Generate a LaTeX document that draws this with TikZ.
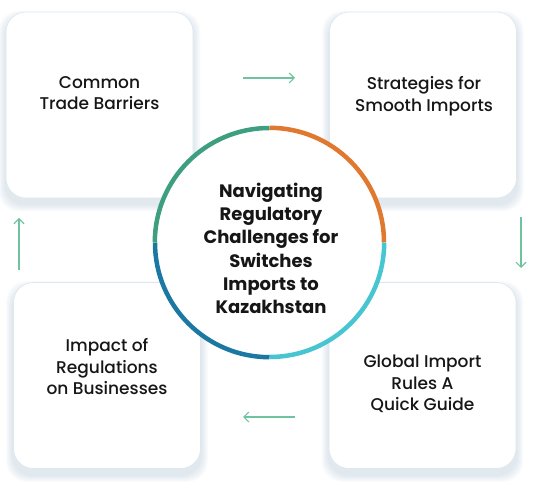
\documentclass[tikz,border=0pt]{standalone}
\usepackage{fontspec}
\setmainfont{Poppins}
\newfontfamily\cardfont{Poppins Medium}
\usetikzlibrary{arrows.meta,backgrounds}
\definecolor{arcgreen}{HTML}{3D9F7F}
\definecolor{arcorange}{HTML}{E0782F}
\definecolor{arccyan}{HTML}{47C6D2}
\definecolor{arcblue}{HTML}{1B78A3}
\definecolor{flowgreen}{HTML}{6FC3A0}
\definecolor{cardline}{HTML}{DCE7EE}
\definecolor{cardshadow}{HTML}{9DB7CC}
\definecolor{inktext}{HTML}{161616}
\tikzset{
  card/.style={draw=cardline, line width=0.6pt, fill=white, rounded corners=20pt,
    minimum width=187pt, minimum height=186pt},
  cardtext/.style={align=center, text=inktext, font=\cardfont\fontsize{17}{21.5}\selectfont},
  flow/.style={draw=flowgreen, line width=1.2pt, -{Straight Barb[length=5pt,width=10pt]}},
}
\begin{document}
\begin{tikzpicture}[x=1pt,y=1pt]
    \useasboundingbox (0,0) rectangle (535,492);
    % cards
    \node[card] (trade) at (99.5,387) {};
    \node[card] (smooth) at (423,387) {};
    \node[card] (impact) at (107,116.5) {};
    \node[card] (guide) at (422.5,116.5) {};
    \node[cardtext] (tradetxt) at (99.5,399) {Common\\Trade Barriers};
    \node[cardtext] (smoothtxt) at (424,396) {Strategies for\\Smooth Imports};
    \node[cardtext] (impacttxt) at (107,125) {Impact of\\Regulations\\on Businesses};
    \node[cardtext] (guidetxt) at (422.5,108) {Global Import\\Rules A\\Quick Guide};
    \begin{scope}[on background layer]
        \foreach \n in {trade,smooth,impact,guide}
            \foreach \s in {1,...,7}
                \fill[cardshadow, opacity=0.05, rounded corners=20pt]
                    ([xshift=-\s, yshift={-\s-6}]\n.south west) rectangle ([xshift=\s, yshift={\s-6}]\n.north east);
    \end{scope}
    % hub
    \node[circle, fill=white, minimum size=229pt, inner sep=0pt] (hub) at (269.5,249.5) {};
    \draw[arcorange, line width=4.5pt] (hub.north) arc (90:0:114.5);
    \draw[arccyan, line width=4.5pt] (hub.east) arc (0:-90:114.5);
    \draw[arcblue, line width=4.5pt] (hub.south) arc (-90:-180:114.5);
    \draw[arcgreen, line width=4.5pt] (hub.west) arc (180:90:114.5);
    \node[align=center, text=inktext, font=\bfseries\fontsize{18}{23.3}\selectfont] (hubtxt) at (271,243.5)
        {Navigating\\Regulatory\\Challenges for\\Switches\\Imports to\\Kazakhstan};
    % flow arrows
    \coordinate (t1) at (243,414); \coordinate (t2) at (295,414);
    \coordinate (r1) at (521,275); \coordinate (r2) at (521,224);
    \coordinate (b1) at (295,75);  \coordinate (b2) at (243,75);
    \coordinate (l1) at (19,222);  \coordinate (l2) at (19,274);
    \draw[flow] (t1) -- (t2);
    \draw[flow] (r1) -- (r2);
    \draw[flow] (b1) -- (b2);
    \draw[flow] (l1) -- (l2);
\end{tikzpicture}
\end{document}
